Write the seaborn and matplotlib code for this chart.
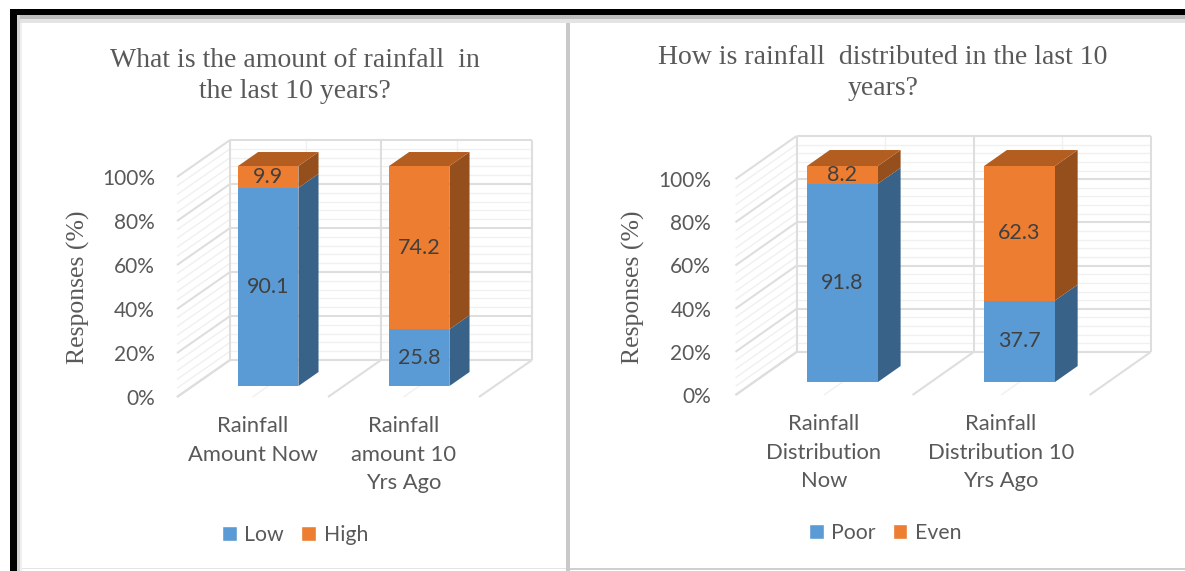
import matplotlib
matplotlib.use("Agg")
import matplotlib.pyplot as plt
import numpy as np
import pandas as pd
import seaborn as sns
from matplotlib.patches import Polygon, Rectangle
from matplotlib.transforms import Affine2D

# Survey responses, in percent
left_categories = ["Rainfall\nAmount Now", "Rainfall\namount 10\nYrs Ago"]
left_series = ["Low", "High"]
left_low = [90.1, 25.8]
left_high = [9.9, 74.2]
left_title = "What is the amount of rainfall  in\nthe last 10 years?"

right_categories = ["Rainfall\nDistribution\nNow", "Rainfall\nDistribution 10\nYrs Ago"]
right_series = ["Poor", "Even"]
right_poor = [91.8, 37.7]
right_even = [8.2, 62.3]
right_title = "How is rainfall  distributed in the last 10\nyears?"

y_ticks = [0, 20, 40, 60, 80, 100]
minor_step = 4

BLUE, ORANGE = "#5B9BD5", "#ED7D31"
BLUE_SIDE, ORANGE_SIDE, ORANGE_TOP = "#386288", "#954F1C", "#B35D20"
GRID, GRID_MINOR = "#DEDEDE", "#F0F0F0"
TEXT, LABEL = "#595959", "#404040"
SANS, SERIF = "Lato", "Liberation Serif"
W, H = 1185, 571

sns.set_theme(style="white", rc={"font.family": SANS})
fig = plt.figure(figsize=(W / 100, H / 100), dpi=100, facecolor="white")


def px_rect(x0, y0, x1, y1, color, z=0):
    fig.add_artist(Rectangle((x0 / W, 1 - y1 / H), (x1 - x0) / W, (y1 - y0) / H,
                             transform=fig.transFigure, fc=color, ec="none", zorder=z))


# Surrounding frame of the two chart tiles
px_rect(10, 9, W, 15, "black")
px_rect(10, 9, 17, H, "black")
px_rect(17, 15, W, 19, "#BDBDBD")
px_rect(17, 19, W, 23, "#E4E4E4")
px_rect(17, 15, 20, H, "#D2D2D2")
px_rect(20, 23, 22, H, "#EFEFEF")
px_rect(566, 23, 570, H, "#C8C8C8")
px_rect(22, H - 3, 566, H - 2, "#E4E4E4")
px_rect(570, H - 3, W, H - 1, "#CFCFCF")


def draw_panel(box, categories, series, lower, upper, title, title_xy, ylabel_x,
               legend_xy, depth_xy, bar_depth, pad_pts):
    x0, y0, x1, y1 = box
    ax = fig.add_axes([x0 / W, 1 - y1 / H, (x1 - x0) / W, (y1 - y0) / H])
    ax.patch.set_alpha(0)
    dx, dy = depth_xy

    def project(x, y, depth):
        return x + depth * dx, y + depth * dy

    def wall_line(p, q, **kw):
        a, b = project(*p), project(*q)
        ax.plot([a[0], b[0]], [a[1], b[1]], clip_on=False, solid_capstyle="butt", **kw)

    major = dict(color=GRID, lw=1.5, zorder=1)
    minor = dict(color=GRID_MINOR, lw=1.0, zorder=0.5)

    # Back wall and side wall with their rulings
    for v in np.arange(0, 100 + minor_step, minor_step):
        style = major if v % 20 == 0 else minor
        wall_line((-0.5, v, 1), (1.5, v, 1), **style)
        wall_line((-0.5, v, 0), (-0.5, v, 1), **style)
    for edge in [-0.5, 0.5, 1.5]:
        wall_line((edge, 0, 1), (edge, 100, 1), **major)
        wall_line((edge, 0, 0), (edge, 0, 1), **major)
    for mid in [0, 1]:
        wall_line((mid, 0, 1), (mid, 100, 1), **minor)
        wall_line((mid, 0, 0), (mid, 0, 1), **minor)

    # Front faces of the stacked columns
    table = pd.DataFrame({
        "category": categories * 2,
        "series": [series[0]] * 2 + [series[1]] * 2,
        "value": list(lower) + list(upper),
    })
    bar_width = 0.40
    sns.barplot(data=table, x="category", y="value", hue="series", order=categories,
                hue_order=series, palette=[BLUE, ORANGE], dodge=False, width=bar_width,
                saturation=1, ax=ax, legend=False, zorder=4, linewidth=0, edgecolor="none")
    front = Affine2D().translate(bar_depth[0] * dx, bar_depth[0] * dy) + ax.transData
    for patch in ax.containers[0]:
        patch.set_transform(front)
        patch.set_clip_on(False)
    for patch, base in zip(ax.containers[1], lower):
        patch.set_y(base)
        patch.set_transform(front)
        patch.set_clip_on(False)

    # Side and top faces run from the front of each column to its back
    d0, d1 = bar_depth
    for i, (low, up) in enumerate(zip(lower, upper)):
        right = i + bar_width / 2
        left = i - bar_width / 2
        top = low + up
        for base, end, color in [(0, low, BLUE_SIDE), (low, top, ORANGE_SIDE)]:
            ax.add_patch(Polygon(
                [project(right, base, d0), project(right, base, d1),
                 project(right, end, d1), project(right, end, d0)],
                fc=color, ec="none", zorder=3, clip_on=False))
        ax.add_patch(Polygon(
            [project(left, top, d0), project(left, top, d1),
             project(right, top, d1), project(right, top, d0)],
            fc=ORANGE_TOP, ec="none", zorder=3, clip_on=False))
        for base, value in [(0, low), (low, up)]:
            ax.text(*project(i, base + value / 2, d0), f"{value:.1f}", ha="center", va="center",
                    fontsize=15.5, color=LABEL, zorder=6, clip_on=False)

    ax.set_xlim(-0.5, 1.5)
    ax.set_ylim(0, 100)
    ax.set_yticks(y_ticks, [f"{v}%" for v in y_ticks])
    ax.set_xlabel("")
    ax.set_ylabel("")
    ax.tick_params(axis="y", length=0, pad=pad_pts, labelsize=15, labelcolor=TEXT)
    ax.tick_params(axis="x", length=0, pad=13.5, labelsize=15.8, labelcolor=TEXT)
    for label in ax.get_xticklabels():
        label.set_linespacing(1.55)
    sns.despine(ax=ax, left=True, bottom=True)

    fig.text(title_xy[0] / W, 1 - title_xy[1] / H, title, ha="center", va="center",
             family=SERIF, fontsize=20, color=TEXT, linespacing=1.35)
    fig.text(ylabel_x / W, 1 - 287 / H, "Responses (%)", rotation=90, ha="center", va="center",
             family=SERIF, fontsize=18.5, color=TEXT)

    handles = [Rectangle((0, 0), 1, 1, fc=BLUE), Rectangle((0, 0), 1, 1, fc=ORANGE)]
    fig.legend(handles, series, loc="center", bbox_to_anchor=(legend_xy[0] / W, 1 - legend_xy[1] / H),
               ncol=2, frameon=False, fontsize=15.3, labelcolor=TEXT, handlelength=0.7,
               handleheight=0.7, handletextpad=0.35, columnspacing=0.8)


draw_panel((177, 177, 479, 397), left_categories, left_series, left_low, left_high,
           left_title, (295, 76), 78, (295, 535), (0.351, 16.8), (0.297, 0.676), 16)
draw_panel((735.5, 179, 1089.6, 395), right_categories, right_series, right_poor, right_even,
           right_title, (883, 73), 633, (885, 533), (0.345, 19.9), (0.30, 0.674), 17.5)

fig.savefig("out.png", dpi=100)
